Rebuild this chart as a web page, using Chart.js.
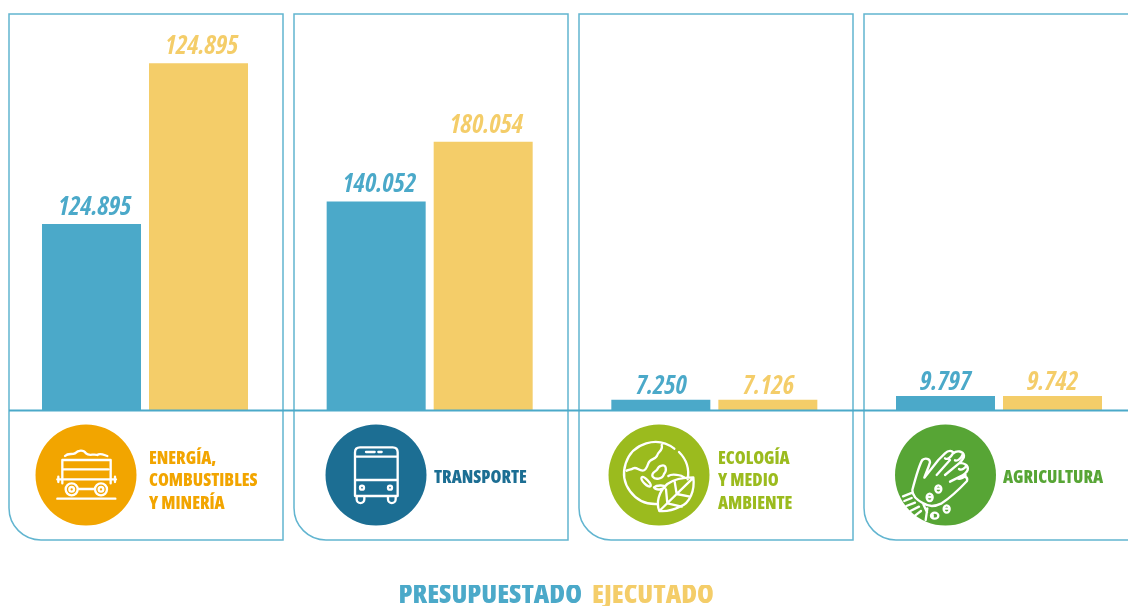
<!DOCTYPE html>
<html lang="es">
<head>
<meta charset="utf-8">
<title>Presupuestado y ejecutado por sector</title>
<style>
html,body{margin:0;padding:0;background:#fff;overflow:hidden}
canvas{display:block}
</style>
<script src="https://cdn.jsdelivr.net/npm/chart.js@4/dist/chart.umd.min.js"></script>
</head>
<body>
<canvas id="c" width="1128" height="606"></canvas>
<script>
const categories = [
  ['ENERGÍA,', 'COMBUSTIBLES', 'Y MINERÍA'],
  ['TRANSPORTE'],
  ['ECOLOGÍA', 'Y MEDIO', 'AMBIENTE'],
  ['AGRICULTURA']
];
const presupuestado = [124.895, 140.052, 7.25, 9.797];
const ejecutado = [232.7, 180.054, 7.126, 9.742];
const presupuestadoLabels = ['124.895', '140.052', '7.250', '9.797'];
const ejecutadoLabels = ['124.895', '180.054', '7.126', '9.742'];
const seriesNames = ['PRESUPUESTADO', 'EJECUTADO'];
const seriesColors = ['#4BA9C9', '#F4CD69'];
const categoryColors = ['#F2A500', '#1C6E93', '#9BBB1E', '#57A535'];

const FONT = '"Open Sans",sans-serif';
const BORDER = '#62B5D0';
const RULE = '#4BA9C9';

const panelX = [9, 294, 579, 864];
const panelW = 274;
const discX = [86, 376, 659, 945.5];
const textX = [149, 434, 718, 1003];
const labelDx = [3, 3, 0.5, 0];
const labelGap = [9, 9, 6, 6];

const iconOrigin = [[0, 400], [300, 400], [580, 400], [895, 425]];
const iconPaths = [
  'M195 168C205 158 215 165 225 160C235 150 250 148 258 160C268 170 280 160 292 165C300 158 312 165 322 168M187 250V180H332V250M187 208H325M172 238H348M175 230V246M345 230V246M233 267H285M172 296H346M197 268a18 18 0 1 0 36 0a18 18 0 1 0 -36 0M208 268a7 7 0 1 0 14 0a7 7 0 1 0 -14 0M285 268a18 18 0 1 0 36 0a18 18 0 1 0 -36 0M296 268a7 7 0 1 0 14 0a7 7 0 1 0 -14 0',
  'M180 142H278Q293 142 293 157V288H165V157Q165 142 180 142ZM168 170H290M168 240H290M198 156H224M235 156H245M180 263a6 6 0 1 0 12 0a6 6 0 1 0 -12 0M264 263a6 6 0 1 0 12 0a6 6 0 1 0 -12 0M170 290V298A11.5 11.5 0 0 0 193 298V290M264 290V298A11.5 11.5 0 0 0 287 298V290',
  'M228 312A93 93 0 1 1 283 146M297 156A93 93 0 0 1 323 238M245 135C250 150 235 155 232 165C228 180 210 175 205 190C200 205 195 212 188 212C175 212 170 200 160 205C152 210 148 208 140 212M245 197C258 192 262 210 252 222C248 238 225 240 218 230C212 218 228 215 232 208C235 200 240 198 245 197ZM185 232C192 226 215 252 212 258C205 266 180 240 185 232ZM265 228C275 220 305 225 312 232M222 262C230 255 252 255 256 260C250 270 228 272 222 262ZM340 232C345 270 330 310 300 320C280 330 255 335 238 333C228 310 235 275 262 252C285 235 315 232 340 232ZM238 333L335 238M262 310L258 268M290 282L284 245M262 310L305 320M290 282L330 290',
  'M52 195C60 165 72 120 82 105C90 98 105 100 105 112C100 130 92 145 88 158L130 105L150 85C160 75 172 75 175 85C185 75 205 78 207 92C208 100 200 108 192 115C205 112 222 120 218 135C215 142 205 150 195 155C205 150 220 155 216 168C200 185 170 215 140 235C120 245 100 245 85 235C65 225 52 210 52 195M125 150L165 105M150 150L192 115M165 170L195 155M150 100C158 106 168 95 172 88M180 106C188 110 200 98 202 90M192 132C200 138 212 128 214 122M186 160C194 165 208 158 212 150M24 214L52 203M28 228L50 219M34 243L60 233M46 258L72 245M60 272L78 258M85 238L96 262M97 250L92 285M95 217a9 11 0 1 0 18 0a9 11 0 1 0 -18 0M121 192a9 11 0 1 0 18 0a9 11 0 1 0 -18 0M146 252a9 11 0 1 0 18 0a9 11 0 1 0 -18 0M108 272a11 9 0 1 0 22 0a11 9 0 1 0 -22 0M99 216H109M125 191H135M150 251H160M113 268V276'
];

const sketchPlugin = {
  id: 'sketch',
  afterLayout(chart) {
    const x = chart.scales.x;
    x.right = x.left + 1138.67;
    x.width = 1138.67;
    x.configure();
    const legend = chart.legend;
    legend.left -= 16; legend.right -= 16;
    const h = legend.bottom - legend.top;
    legend.top = 585; legend.bottom = 585 + h;
  },
  beforeDatasetsDraw(chart) {
    const ctx = chart.ctx;
    ctx.save();
    ctx.strokeStyle = BORDER;
    ctx.lineWidth = 1.5;
    panelX.forEach(x => {
      ctx.beginPath();
      ctx.moveTo(x, 14);
      ctx.lineTo(x + panelW, 14);
      ctx.lineTo(x + panelW, 540);
      ctx.lineTo(x + 32, 540);
      ctx.arcTo(x, 540, x, 508, 32);
      ctx.closePath();
      ctx.stroke();
    });
    ctx.restore();
  },
  afterDatasetsDraw(chart) {
    const ctx = chart.ctx;
    const base = chart.scales.y.getPixelForValue(0);
    ctx.save();
    ctx.strokeStyle = RULE;
    ctx.lineWidth = 2;
    ctx.beginPath();
    ctx.moveTo(9, base);
    ctx.lineTo(1128, base);
    ctx.stroke();

    ctx.textAlign = 'center';
    ctx.textBaseline = 'alphabetic';
    ctx.font = 'italic bold condensed 26px ' + FONT;
    [presupuestadoLabels, ejecutadoLabels].forEach((labels, d) => {
      ctx.fillStyle = seriesColors[d];
      chart.getDatasetMeta(d).data.forEach((bar, i) => {
        ctx.fillText(labels[i], bar.x + labelDx[i], bar.y - labelGap[i]);
      });
    });

    categories.forEach((lines, i) => {
      ctx.fillStyle = categoryColors[i];
      ctx.beginPath();
      ctx.arc(discX[i], 475, 50.5, 0, Math.PI * 2);
      ctx.fill();

      ctx.save();
      ctx.translate(iconOrigin[i][0], iconOrigin[i][1]);
      ctx.scale(1 / 3, 1 / 3);
      ctx.strokeStyle = '#fff';
      ctx.lineWidth = 7;
      ctx.lineCap = 'round';
      ctx.lineJoin = 'round';
      ctx.stroke(new Path2D(iconPaths[i]));
      ctx.restore();

      ctx.fillStyle = categoryColors[i];
      ctx.textAlign = 'left';
      ctx.font = '800 condensed 17.6px ' + FONT;
      const y0 = lines.length > 1 ? 463.5 : 483;
      lines.forEach((t, k) => ctx.fillText(t, textX[i], y0 + k * 22.5));
    });
    ctx.restore();
  }
};

new Chart(document.getElementById('c'), {
  type: 'bar',
  data: {
    labels: categories,
    datasets: [
      { label: seriesNames[0], data: presupuestado, backgroundColor: seriesColors[0] },
      { label: seriesNames[1], data: ejecutado, backgroundColor: seriesColors[1] }
    ]
  },
  options: {
    responsive: false,
    animation: false,
    events: [],
    layout: { padding: { left: 2.67, right: 0, top: 0, bottom: 162 } },
    datasets: { bar: { categoryPercentage: 0.7518, barPercentage: 0.9252 } },
    scales: {
      x: { display: false },
      y: { display: false, min: 0, max: 275 }
    },
    plugins: {
      tooltip: { enabled: false },
      legend: {
        display: true,
        position: 'bottom',
        labels: {
          boxWidth: 0,
          padding: -3.5,
          font: { family: FONT, size: 27, weight: '800 semi-condensed' },
          generateLabels: () => seriesNames.map((n, i) => ({
            text: n, fontColor: seriesColors[i], fillStyle: 'transparent',
            strokeStyle: 'transparent', lineWidth: 0, datasetIndex: i
          }))
        }
      }
    }
  },
  plugins: [sketchPlugin]
});
</script>
</body>
</html>
